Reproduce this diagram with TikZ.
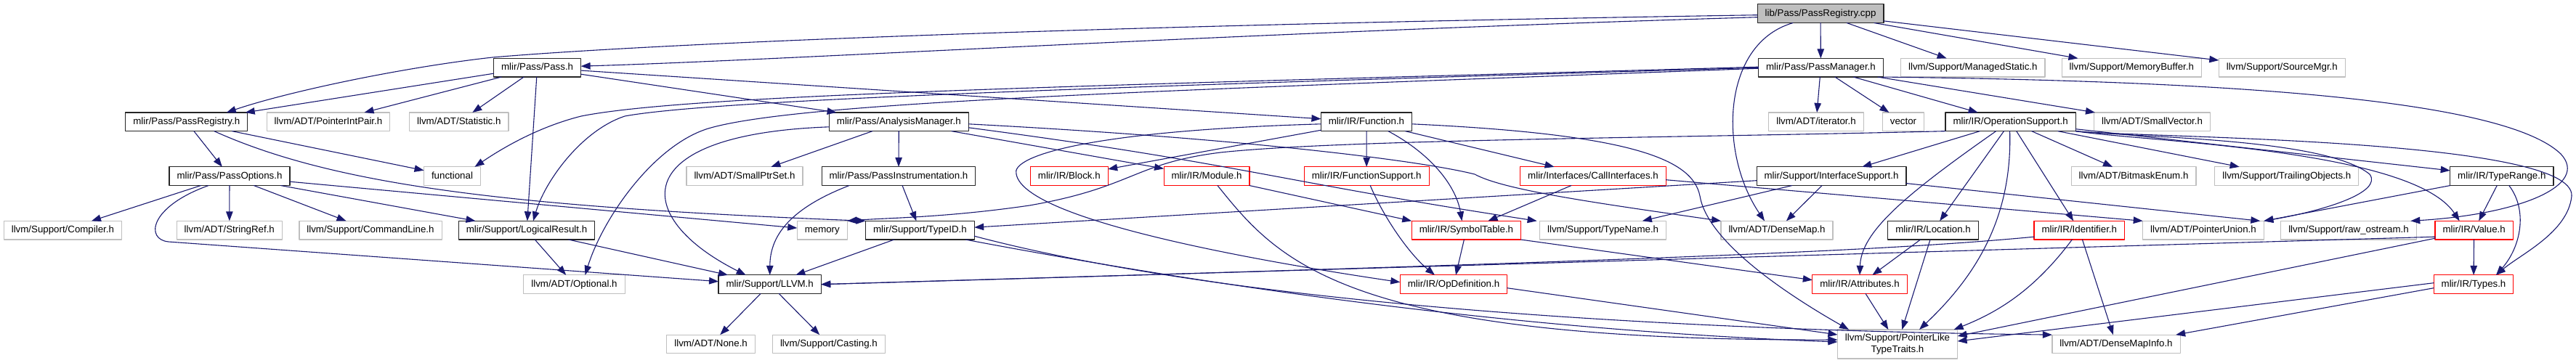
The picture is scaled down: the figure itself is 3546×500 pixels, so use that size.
\documentclass[tikz,border=0pt]{standalone}
\usepackage{fontspec}
\setmainfont{Liberation Sans}
\usetikzlibrary{arrows.meta}
\definecolor{edgeblue}{HTML}{191970}
\definecolor{extgray}{HTML}{BFBFBF}
\definecolor{cutred}{HTML}{FF0000}
\definecolor{rootfill}{HTML}{BFBFBF}
\tikzset{
    every picture/.style={line cap=round,line join=round},
    hdrbox/.style={draw,rectangle,fill=white,line width=1.2pt,minimum height=25.7pt,
      inner xsep=10.5pt,inner ysep=2pt,text height=9.6pt,text depth=2.6pt,
      outer sep=0pt,font=\fontsize{13.3}{16}\selectfont},
    docbox/.style={hdrbox,draw=black!85},
    extbox/.style={hdrbox,draw=extgray},
    cutbox/.style={hdrbox,draw=cutred},
    rootbox/.style={hdrbox,draw=black!85,fill=rootfill},
    depline/.style={draw=edgeblue,line width=1.1pt,-{Triangle[length=13pt,width=9.5pt]}}
}
\begin{document}
\begin{tikzpicture}[x=1pt,y=-1pt]
  \useasboundingbox (0,0) rectangle (3546,500);
  % row 0
  \node[rootbox] (root) at (2506,18.7) {lib/Pass/PassRegistry.cpp};
  % row 1
  \node[docbox] (pass) at (739.6,93.2) {mlir/Pass/Pass.h};
  \node[docbox] (pm) at (2506.4,93.2) {mlir/Pass/PassManager.h};
  \node[extbox] (managed) at (2715.8,93.2) {llvm/Support/ManagedStatic.h};
  \node[extbox] (membuf) at (2934.3,93.2) {llvm/Support/MemoryBuffer.h};
  \node[extbox] (srcmgr) at (3141.3,93.2) {llvm/Support/SourceMgr.h};
  % row 2
  \node[docbox] (preg) at (256.8,167.8) {mlir/Pass/PassRegistry.h};
  \node[extbox] (pip) at (452,167.8) {llvm/ADT/PointerIntPair.h};
  \node[extbox] (stat) at (631.8,167.8) {llvm/ADT/Statistic.h};
  \node[docbox] (am) at (1237.3,167.8) {mlir/Pass/AnalysisManager.h};
  \node[docbox] (func) at (1881,167.8) {mlir/IR/Function.h};
  \node[extbox] (iter) at (2500,167.8) {llvm/ADT/iterator.h};
  \node[extbox] (vector) at (2620,167.8) {vector};
  \node[docbox] (opsup) at (2767.6,167.8) {mlir/IR/OperationSupport.h};
  \node[extbox] (smallvec) at (2962.5,167.8) {llvm/ADT/SmallVector.h};
  % row 3
  \node[docbox] (popt) at (316,242.7) {mlir/Pass/PassOptions.h};
  \node[extbox] (functional) at (622.5,242.7) {functional};
  \node[extbox] (smallptr) at (1025,242.7) {llvm/ADT/SmallPtrSet.h};
  \node[docbox] (pinstr) at (1237,242.7) {mlir/Pass/PassInstrumentation.h};
  \node[cutbox] (block) at (1471.8,242.7) {mlir/IR/Block.h};
  \node[cutbox] (module) at (1661,242.7) {mlir/IR/Module.h};
  \node[cutbox] (funcsup) at (1881.2,242.7) {mlir/IR/FunctionSupport.h};
  \node[cutbox] (callif) at (2193,242.7) {mlir/Interfaces/CallInterfaces.h};
  \node[docbox] (ifsup) at (2521,242.7) {mlir/Support/InterfaceSupport.h};
  \node[extbox] (bitmask) at (2937,242.7) {llvm/ADT/BitmaskEnum.h};
  \node[extbox] (trailing) at (3147.8,242.7) {llvm/Support/TrailingObjects.h};
  \node[docbox] (typerange) at (3443.8,242.7) {mlir/IR/TypeRange.h};
  % row 4
  \node[extbox] (compiler) at (86.4,317.2) {llvm/Support/Compiler.h};
  \node[extbox] (stringref) at (315.8,317.2) {llvm/ADT/StringRef.h};
  \node[extbox] (cmdline) at (510,317.2) {llvm/Support/CommandLine.h};
  \node[docbox] (logres) at (725,317.2) {mlir/Support/LogicalResult.h};
  \node[extbox] (memory) at (1131.8,317.2) {memory};
  \node[docbox] (typeid) at (1266.4,317.2) {mlir/Support/TypeID.h};
  \node[cutbox] (symtab) at (2018.4,317.2) {mlir/IR/SymbolTable.h};
  \node[extbox] (typename) at (2206.6,317.2) {llvm/Support/TypeName.h};
  \node[extbox] (densemap) at (2446,317.2) {llvm/ADT/DenseMap.h};
  \node[docbox] (location) at (2661,317.2) {mlir/IR/Location.h};
  \node[cutbox] (ident) at (2862.3,317.2) {mlir/IR/Identifier.h};
  \node[extbox] (punion) at (3033,317.2) {llvm/ADT/PointerUnion.h};
  \node[extbox] (rawos) at (3233,317.2) {llvm/Support/raw\_ostream.h};
  \node[cutbox] (value) at (3405.6,317.2) {mlir/IR/Value.h};
  % row 5
  \node[extbox] (optional) at (790.5,391.7) {llvm/ADT/Optional.h};
  \node[docbox] (llvm) at (1059.7,391.7) {mlir/Support/LLVM.h};
  \node[cutbox] (opdef) at (2001,391.7) {mlir/IR/OpDefinition.h};
  \node[cutbox] (attrs) at (2560,391.7) {mlir/IR/Attributes.h};
  \node[cutbox] (types) at (3405,391.7) {mlir/IR/Types.h};
  % row 6
  \node[extbox] (none) at (978.6,474) {llvm/ADT/None.h};
  \node[extbox] (casting) at (1140.9,474) {llvm/Support/Casting.h};
  \node[extbox,minimum height=40pt,text height={},text depth={},align=center] (plike) at (2612,474) {llvm/Support/PointerLike\\TypeTraits.h};
  \node[extbox] (dmi) at (2913,474) {llvm/ADT/DenseMapInfo.h};

  % the .cpp file
  \draw[depline] ([yshift=-2pt]root.west) .. controls (1500,35) and (900,60) .. (678,79) .. controls (560,92) and (400,125) .. ([xshift=55pt]preg.north);
  \draw[depline] ([yshift=-5pt]root.west) .. controls (1700,45) and (1100,82) .. ([yshift=2pt]pass.east);
  \draw[depline] (root) -- (pm);
  \draw[depline] ([xshift=-38pt]root.south) .. controls (2370,60) and (2365,210) .. ([xshift=-17pt]densemap.north);
  \draw[depline] (root) -- (managed);
  \draw[depline] (root) -- (membuf);
  \draw[depline] (root) -- (srcmgr);

  % Pass.h, PassRegistry.h, PassOptions.h
  \draw[depline] ([yshift=-8pt]pass.west) -- ([xshift=-3pt]preg.north east);
  \draw[depline] (pass) -- (pip);
  \draw[depline] (pass) -- (stat);
  \draw[depline] (pass) -- (logres);
  \draw[depline] (pass) -- (am);
  \draw[depline] (pass) -- (func);
  \draw[depline] (preg) -- (popt);
  \draw[depline] (preg) -- (functional);
  \draw[depline] ([xshift=38pt]preg.south) .. controls (460,255) and (700,285) .. (typeid.north west);
  \draw[depline] (popt) -- (compiler);
  \draw[depline] (popt) -- (stringref);
  \draw[depline] (popt) -- (cmdline);
  \draw[depline] (popt) -- (memory);
  \draw[depline] (popt) -- (logres);
  \draw[depline] ([xshift=-29pt]popt.south) .. controls (205,285) and (200,330) .. (232,333) -- ([yshift=4pt]llvm.west);
  \draw[depline] (logres) -- (optional);
  \draw[depline] (logres) -- (llvm);
  \draw[depline] (llvm) -- (none);
  \draw[depline] (llvm) -- (casting);

  % PassManager.h
  \draw[depline] (pm) -- (iter);
  \draw[depline] (pm) -- (vector);
  \draw[depline] (pm) -- (opsup);
  \draw[depline] (pm) -- (smallvec);
  \draw[depline] ([yshift=1pt]pm.west) .. controls (1500,118) and (950,130) .. (800,160) .. controls (740,175) and (690,205) .. ([xshift=-8pt]functional.north east);
  \draw[depline] (pm.west) .. controls (1500,120) and (980,138) .. (860,160) .. controls (800,180) and (750,250) .. ([xshift=9pt]logres.north);
  \draw[depline] ([yshift=-1pt]pm.west) .. controls (1600,125) and (1100,140) .. (975,177) .. controls (900,200) and (830,300) .. ([xshift=15pt]optional.north);
  \draw[depline] (pm.south east) .. controls (3100,112) and (3450,140) .. (3525,212) .. controls (3565,255) and (3470,295) .. ([xshift=-8pt]rawos.north east);

  % AnalysisManager.h, PassInstrumentation.h, TypeID.h
  \draw[depline] (am) -- (pinstr);
  \draw[depline] (am) -- (smallptr);
  \draw[depline] (am) -- (module);
  \draw[depline] ([yshift=-7pt]am.west) .. controls (860,185) and (870,300) .. ([xshift=-33pt]llvm.north);
  \draw[depline] ([yshift=-3pt]am.east) .. controls (1700,190) and (1950,220) .. (2030,240) .. controls (2070,262) and (2200,280) .. (densemap.north west);
  \draw[depline] ([yshift=-8pt]am.east) .. controls (1700,224) and (1760,250) .. ([xshift=-4pt]typename.north west);
  \draw[depline] (pinstr) -- (typeid);
  \draw[depline] ([xshift=-68pt]pinstr.south) .. controls (1080,290) and (1060,330) .. (llvm.north);
  \draw[depline] (typeid) -- (llvm);
  \draw[depline] ([yshift=-8pt]typeid.east) .. controls (1700,420) and (2300,455) .. (dmi.north west);
  \draw[depline] ([xshift=-12pt]typeid.south east) .. controls (1700,400) and (2100,455) .. ([yshift=3pt]plike.west);

  % Function.h and friends
  \draw[depline] (func) -- (block);
  \draw[depline] (func) -- (funcsup);
  \draw[depline] ([xshift=30pt]func.south) .. controls (1975,215) and (2005,260) .. ([xshift=-6pt]symtab.north);
  \draw[depline] (func) -- (callif);
  \draw[depline] ([yshift=-3pt]func.west) .. controls (1500,180) and (1390,215) .. (1399,240) .. controls (1410,300) and (1700,355) .. ([yshift=3pt]opdef.west);
  \draw[depline] ([yshift=-3pt]func.east) .. controls (2250,185) and (2330,220) .. (2340,270) .. controls (2350,330) and (2450,400) .. ([xshift=-67pt]plike.north);
  \draw[depline] ([xshift=5pt]funcsup.south) .. controls (1905,300) and (1940,350) .. ([xshift=-26pt]opdef.north);
  \draw[depline] (callif) -- (symtab);
  \draw[depline] ([yshift=-5pt]callif.east) -- (punion.north west);
  \draw[depline] (module.south east) -- (symtab.north west);
  \draw[depline] ([xshift=15pt]module.south) .. controls (1760,360) and (1850,470) .. ([yshift=6pt]plike.west);
  \draw[depline] (symtab) -- (opdef);
  \draw[depline] (symtab.south east) -- ([yshift=6pt]attrs.west);
  \draw[depline] ([yshift=-5pt]opdef.east) -- ([yshift=13pt]plike.west);

  % OperationSupport.h
  \draw[depline] (opsup.south west) .. controls (2300,190) and (1850,192) .. (1680,210) .. controls (1560,225) and (1560,258) .. (1417,283) .. controls (1300,300) and (1220,300) .. (memory.north east);
  \draw[depline] (opsup) -- (ifsup);
  \draw[depline] ([xshift=-20pt]opsup.south) .. controls (2620,270) and (2562,320) .. (attrs.north);
  \draw[depline] (opsup) -- (location);
  \draw[depline] ([xshift=-1pt]opsup.south) .. controls (2770,300) and (2720,380) .. ([xshift=30pt]plike.north);
  \draw[depline] (opsup) -- (ident);
  \draw[depline] (opsup) -- (bitmask);
  \draw[depline] (opsup) -- (trailing);
  \draw[depline] (opsup) -- (typerange);
  \draw[depline] (opsup.south east) .. controls (2950,195) and (3320,205) .. ([xshift=-20pt]value.north);
  \draw[depline] (opsup.south east) .. controls (2950,190) and (3545,190) .. (3540,270) .. controls (3535,320) and (3470,350) .. ([xshift=31pt]types.north);
  \draw[depline] (opsup.south east) .. controls (2950,190) and (3200,190) .. (3262,240) .. controls (3280,265) and (3200,290) .. (punion.north east);

  % lower headers
  \draw[depline] ([yshift=-6pt]ifsup.west) -- ([yshift=4pt]typeid.east);
  \draw[depline] (ifsup) -- (typename);
  \draw[depline] (ifsup) -- (densemap);
  \draw[depline] ([yshift=3pt]ifsup.south east) -- ([xshift=-5pt]punion.north east);
  \draw[depline] (location) -- (attrs);
  \draw[depline] (location) -- (plike);
  \draw[depline] ([yshift=-9pt]ident.west) .. controls (2600,345) and (2300,358) .. (llvm.east);
  \draw[depline] ([xshift=-10pt]ident.south) .. controls (2800,400) and (2750,430) .. ([xshift=-5pt]plike.north east);
  \draw[depline] (ident) -- (dmi);
  \draw[depline] (attrs) -- (plike);
  \draw[depline] (typerange) -- (value);
  \draw[depline] ([xshift=10pt]typerange.south) .. controls (3480,290) and (3470,340) .. ([xshift=31pt]types.north);
  \draw[depline] (typerange.south west) -- (punion.north east);
  \draw[depline] (value) -- (types);
  \draw[depline] ([yshift=-9pt]value.west) -- (llvm.east);
  \draw[depline] ([yshift=-11pt]value.west) -- ([yshift=11pt]plike.east);
  \draw[depline] ([yshift=2pt]types.west) -- ([yshift=4pt]plike.east);
  \draw[depline] ([yshift=-5pt]types.west) -- ([xshift=-6pt]dmi.north east);
\end{tikzpicture}
\end{document}
